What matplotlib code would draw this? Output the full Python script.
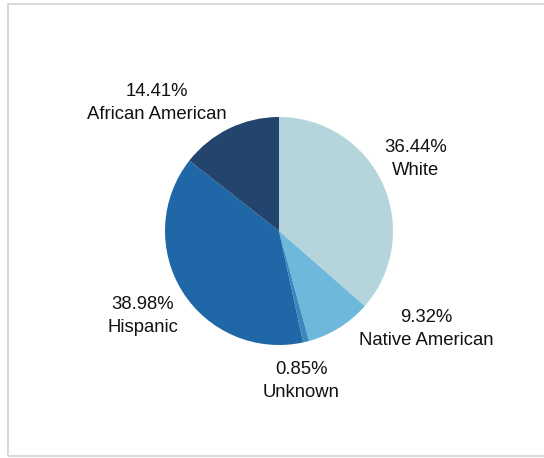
import matplotlib.pyplot as plt
from matplotlib.patches import Rectangle

plt.rcParams["font.family"] = ["Liberation Sans", "DejaVu Sans"]

groups = ["White", "Native American", "Unknown", "Hispanic", "African American"]
shares = [36.44, 9.32, 0.85, 38.98, 14.41]
colors = ["#b5d5dc", "#6db8db", "#3a88c0", "#1f67a7", "#23446d"]

# label anchors in pixel space (x, y from bottom)
label_pos = {
    "White": (416, 299),
    "Native American": (426, 129),
    "Unknown": (301, 77),
    "Hispanic": (143, 142),
    "African American": (157, 355),
}

W, H = 544, 458
fig = plt.figure(figsize=(W / 100, H / 100), dpi=100)
fig.patch.set_facecolor("white")
ax = fig.add_axes([0, 0, 1, 1])
ax.set_xlim(0, W)
ax.set_ylim(0, H)
ax.set_aspect("equal")
ax.axis("off")

# outer frame, right edge runs off the canvas
ax.add_patch(Rectangle((7.5, 2.5), 600, 452, fill=False,
                       edgecolor="#d6d6d6", linewidth=1.3))

ax.pie(shares, colors=colors, startangle=90, counterclock=False,
       center=(279, 227), radius=114,
       wedgeprops=dict(linewidth=0))
ax.set_xlim(0, W)
ax.set_ylim(0, H)

for name, val in zip(groups, shares):
    x, y = label_pos[name]
    ax.text(x, y, f"{val:.2f}%\n{name}", ha="center", va="center",
            fontsize=13.3, color="#111111", linespacing=1.4)

fig.savefig("out.png", dpi=100, facecolor="white")
